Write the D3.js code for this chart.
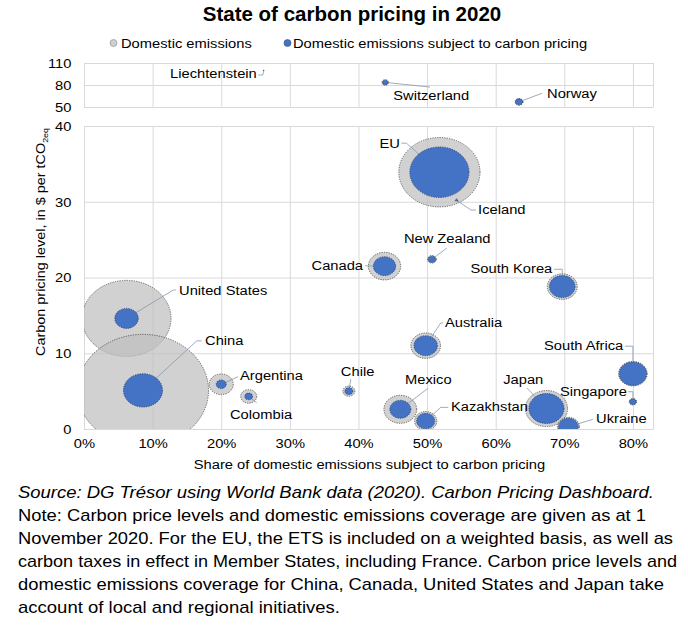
<!DOCTYPE html>
<html><head><meta charset="utf-8">
<script src="https://cdn.jsdelivr.net/npm/d3@7"></script>
<style>
body{margin:0;background:#fff;}
text{font-family:"Liberation Sans",Arial,sans-serif;fill:#000;}
</style></head>
<body><svg id="c" width="688" height="632"></svg>
<script>
// ---- data ----
const countries = ["Liechtenstein","Switzerland","Norway","EU","Iceland","New Zealand","Canada","South Korea","United States","Australia","South Africa","China","Argentina","Colombia","Chile","Mexico","Kazakhstan","Japan","Singapore","Ukraine"];
const share   = [0.262,0.439,0.634,0.518,0.543,0.507,0.438,0.697,0.062,0.498,0.800,0.086,0.200,0.240,0.386,0.461,0.498,0.674,0.800,0.706];
const price   = [100,83.5,57,33.9,30.2,22.4,21.5,18.8,14.6,11.0,7.3,5.1,5.9,4.3,5.0,2.6,1.05,2.7,3.6,0.3];
const emissions = [0.3,30,44,4608,5,55,729,627,5526,617,570,12000,406,177,100,750,345,1240,39,338]; // MtCO2e, domestic
const covered   = [0.1,20,35,2450,2.5,39,345,463,383,383,524,1067,71,42,44,310,233,861,30,276];  // MtCO2e subject to pricing
const xTicks = [0,0.1,0.2,0.3,0.4,0.5,0.6,0.7,0.8];
const yTicksMain = [0,10,20,30,40];
const yTicksTop = [50,80,110];
const seriesNames = ["Domestic emissions","Domestic emissions subject to carbon pricing"];
const title = "State of carbon pricing in 2020";
const xTitle = "Share of domestic emissions subject to carbon pricing";
const noteLines = [
 "Source: DG Trésor using World Bank data (2020). Carbon Pricing Dashboard.",
 "Note: Carbon price levels and domestic emissions coverage are given as at 1",
 "November 2020. For the EU, the ETS is included on a weighted basis, as well as",
 "carbon taxes in effect in Member States, including France. Carbon price levels and",
 "domestic emissions coverage for China, Canada, United States and Japan take",
 "account of local and regional initiatives."
];
const noteWidths = [636, 628, 655, 659, 646, 322];
// label placement (pixel offsets from point): [anchor, dx, dy, leaderStart, elbow]
const labelPos = {
 "Liechtenstein":["end",-7,8,[-5.5,4.7],[-1,4.7]],
 "Switzerland":["start",8,18,[44.8,4.6],null],
 "Norway":["start",28,-4,[23,-8.6],null],
 "EU":["start",-60,-24,[-38,-29],[-33,-29]],
 "Iceland":["start",21.5,14,[19.4,9.8],[14.4,9.8]],
 "New Zealand":["start",-28,-16,[15,-11.3],null],
 "Canada":["end",-21.5,3.5,[-19.5,-0.4],null],
 "South Korea":["end",-10,-14,[-8.2,-17.3],[0,-17.3]],
 "United States":["start",52.5,-23.4,[49.2,-28.4],[46.8,-28.4]],
 "Australia":["start",19.3,-19,[17.3,-22.7],[15,-22.7]],
 "South Africa":["end",-9.6,-23.7,[-8,-27.5],[0,-27.5]],
 "China":["start",62,-45.4,[58.7,-49.5],[53.7,-49.5]],
 "Argentina":["start",18.8,-4.3,[16.8,-7.6],null],
 "Colombia":["start",-18.7,22.9,[8,6.3],null],
 "Chile":["start",-8,-15,[2,-12],null],
 "Mexico":["start",4.7,-25.3,[27.7,-21],null],
 "Kazakhstan":["start",25.3,-10.3,[22.6,-13.7],[15,-13.7]],
 "Japan":["end",-3.2,-24.5,[-19.5,-20.5],null],
 "Singapore":["end",-6,-5.7,[-5,-10],[0,-10]],
 "Ukraine":["start",27.6,-3.4,[24.6,-7.4],null]
};

const svg = d3.select("#c");
const L = 84, R = 653.5;
const SX = 1.09; // horizontal widening of chart text
const x = d3.scaleLinear().domain([0,0.83]).range([L,R]);
const yM = d3.scaleLinear().domain([0,40]).range([429,126]);
const yT = d3.scaleLinear().domain([50,110]).range([107,63]);
const r = d3.scaleSqrt().domain([0,12000]).range([0,56]);
const ASP = 1.17;
const GRID = "#d9d9d9";

const data = countries.map((c,i)=>({c, s:share[i], p:price[i], e:emissions[i], cv:covered[i], top: price[i] > 45}));
data.forEach(d=>{ d.px = x(d.s); d.py = d.top ? yT(d.p) : yM(d.p); });

function wtext(parent, tx, ty, str, size, anchor){
  return parent.append("text").attr("transform",`translate(${tx},${ty}) scale(${SX},1)`)
    .attr("text-anchor",anchor||"start").style("font-size",size+"px").text(str);
}

// title
svg.append("text").attr("x",352).attr("y",21).attr("text-anchor","middle")
  .style("font-size","20.5px").style("font-weight","bold").text(title);

// legend
const lg = svg.append("g");
lg.append("circle").attr("cx",113.5).attr("cy",43).attr("r",3.5).attr("fill","#cfcfcf").attr("stroke","#8c8c8c").attr("stroke-width",0.6);
wtext(lg,121,47.5,seriesNames[0],13.5);
lg.append("circle").attr("cx",287.5).attr("cy",43).attr("r",3.5).attr("fill","#4472c4").attr("stroke","#2f528f").attr("stroke-width",0.6);
wtext(lg,293,47.5,seriesNames[1],13.5);

function styleAxis(g){
  g.select(".domain").remove();
  g.selectAll(".tick line").attr("stroke",GRID).attr("stroke-width",1);
  g.selectAll(".tick text").style("font-size","13.5px").style("font-family","Liberation Sans, Arial, sans-serif")
    .attr("fill","#000").attr("transform",`scale(${SX},1)`);
}
// top panel grid
svg.append("g").attr("transform",`translate(${L},0)`)
  .call(d3.axisLeft(yT).tickValues(yTicksTop).tickSize(-(R-L)).tickPadding(11.5))
  .call(styleAxis);
svg.append("g").attr("transform",`translate(0,107)`)
  .call(d3.axisBottom(x).tickValues(xTicks).tickSize(-44).tickFormat(""))
  .call(styleAxis);
svg.append("line").attr("x1",R).attr("x2",R).attr("y1",63).attr("y2",107).attr("stroke",GRID);

// main grid
svg.append("g").attr("transform",`translate(${L},0)`)
  .call(d3.axisLeft(yM).tickValues(yTicksMain).tickSize(-(R-L)).tickPadding(11.5))
  .call(styleAxis);
svg.append("g").attr("transform",`translate(0,429)`)
  .call(d3.axisBottom(x).tickValues(xTicks).tickSize(-(429-126)).tickPadding(9).tickFormat(d3.format(".0%")))
  .call(styleAxis);
svg.append("line").attr("x1",R).attr("x2",R).attr("y1",126).attr("y2",429).attr("stroke",GRID);

// clip paths
const defs = svg.append("defs");
defs.append("clipPath").attr("id","clipM").append("rect").attr("x",L).attr("y",126).attr("width",R-L).attr("height",303);
defs.append("clipPath").attr("id","clipT").append("rect").attr("x",L).attr("y",63).attr("width",R-L).attr("height",44);

function layer(){ return [svg.append("g").attr("clip-path","url(#clipT)"), svg.append("g").attr("clip-path","url(#clipM)")]; }
const grayL = layer(), leadL = svg.append("g"), blueL = layer();

data.forEach(d=>{
  const gi = d.top?0:1;
  const ro = r(d.e), ri = r(d.cv);
  grayL[gi].append("ellipse").attr("cx",d.px).attr("cy",d.py).attr("rx",ro*ASP).attr("ry",ro)
    .attr("fill","rgb(191,191,191)").attr("fill-opacity",0.72)
    .attr("stroke","#404040").attr("stroke-width",0.8).attr("stroke-dasharray","1.2,1.2");
  blueL[gi].append("ellipse").attr("cx",d.px).attr("cy",d.py).attr("rx",ri*ASP).attr("ry",ri)
    .attr("fill","#4472c4")
    .attr("stroke","#203864").attr("stroke-width",0.8).attr("stroke-dasharray","1.2,1.2");
});

// leaders & labels
data.forEach(d=>{
  const lp = labelPos[d.c];
  const pts = [[d.px+lp[3][0], d.py+lp[3][1]]];
  if(lp[4]) pts.push([d.px+lp[4][0], d.py+lp[4][1]]);
  pts.push([d.px,d.py]);
  leadL.append("path").attr("d",d3.line()(pts)).attr("fill","none").attr("stroke","#8497b0").attr("stroke-width",0.8);
  wtext(svg, d.px+lp[1], d.py+lp[2], d.c, 13.5, lp[0]);
});

// axis titles
const yl = svg.append("text").attr("transform",`translate(44.5,242) rotate(-90) scale(${SX+0.02},1)`).attr("text-anchor","middle").style("font-size","13px");
yl.append("tspan").text("Carbon pricing level, in $ per tCO");
yl.append("tspan").attr("dy",3).style("font-size","8px").text("2eq");
wtext(svg, 369.5, 469, xTitle, 13.5, "middle");

// notes
noteLines.forEach((t,i)=>{
  svg.append("text").attr("x",18).attr("y",498+i*23).style("font-size","17px")
    .attr("textLength",noteWidths[i]).attr("lengthAdjust","spacingAndGlyphs")
    .style("font-style", i===0?"italic":"normal").text(t);
});
</script></body></html>
